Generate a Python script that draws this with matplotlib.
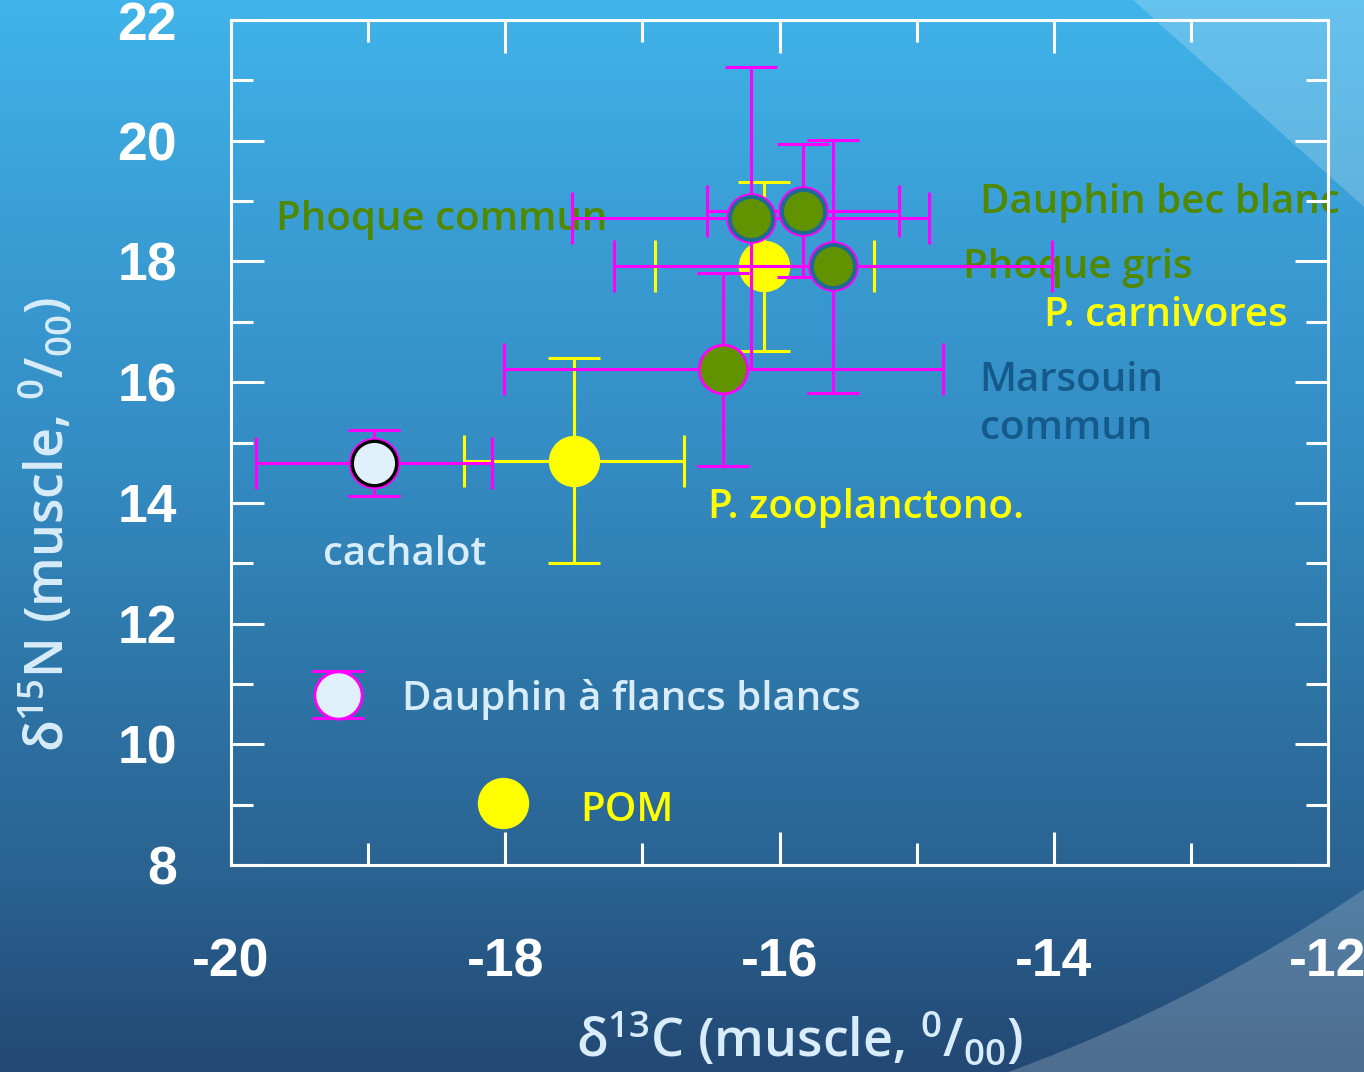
import numpy as np
import matplotlib
matplotlib.use("Agg")
import matplotlib.pyplot as plt
from matplotlib.patches import Wedge, Polygon

plt.rcParams['font.family'] = ['Open Sans', 'DejaVu Sans']
plt.rcParams['mathtext.fontset'] = 'custom'
plt.rcParams['mathtext.rm'] = 'Open Sans:semibold'
plt.rcParams['mathtext.it'] = 'Open Sans:semibold'

# isotope means (d13C, d15N) and their spread
species = ["cachalot", "P. zooplanctono.", "Marsouin commun", "Phoque commun",
           "Dauphin bec blanc", "Phoque gris", "P. carnivores"]
d13c = [-18.96, -17.50, -16.41, -16.21, -15.83, -15.61, -16.11]
d15n = [14.66, 14.70, 16.21, 18.72, 18.84, 17.92, 17.92]
d13c_sd = [0.86, 0.80, 1.60, 1.30, 0.70, 1.60, 0.80]
d15n_sd = [0.54, 1.70, 1.60, 2.50, 1.10, 2.10, 1.40]

# key entries drawn inside the plot
key_x = [-19.22, -18.02]
key_y = [10.82, 9.03]
key_yerr = [0.39, 0.0]

xticks = [-20, -18, -16, -14, -12]
yticks = [8, 10, 12, 14, 16, 18, 20, 22]

MAG = "#ff00ff"
YEL = "#ffff00"
GREEN = "#619300"
RING = "#1d6a94"
PALE = "#e0f0fb"
TXT_GREEN = "#508800"
TXT_PALE = "#d8ecf9"
TXT_BLUE = "#145b8b"

fig = plt.figure(figsize=(13.64, 10.72), dpi=100)

# background: vertical blue gradient with two light swooshes
bg = fig.add_axes([0, 0, 1, 1], zorder=-1)
stops = np.array([0, 200, 460, 650, 880, 1072])
cols = np.array([[64, 180, 234], [58, 160, 215], [52, 140, 195],
                 [46, 120, 170], [42, 98, 145], [35, 72, 115]]) / 255
yy = np.arange(1072)
grad = np.stack([np.interp(yy, stops, cols[:, i]) for i in range(3)], axis=1)
bg.imshow(grad[:, None, :], extent=[0, 1364, 1072, 0], aspect="auto")
bg.add_patch(Wedge((450, -453), 3700, 0, 360, width=2076, color="white", alpha=0.2, lw=0))
bg.add_patch(Polygon([[1133, 0], [1364, 0], [1364, 207]], closed=True,
                     color="white", alpha=0.2, lw=0))
bg.set_xlim(0, 1364)
bg.set_ylim(1072, 0)
bg.axis("off")

ax = fig.add_axes([0.1694, 0.1931, 0.8042, 0.7882])
ax.set_facecolor("none")

ms = 35
cap = 18.7
lw = 2.2

# yellow groups (underneath the magenta bars)
for i in (1, 6):
    ax.errorbar(d13c[i], d15n[i], xerr=d13c_sd[i], yerr=d15n_sd[i], fmt="none",
                ecolor=YEL, elinewidth=lw, capsize=cap, capthick=lw, zorder=2)
    ax.plot(d13c[i], d15n[i], "o", ms=ms + 2, mfc=YEL, mew=0, zorder=2)

# marine mammals: magenta error bars
for i in (0, 2, 3, 4, 5):
    ax.errorbar(d13c[i], d15n[i], xerr=d13c_sd[i], yerr=d15n_sd[i], fmt="none",
                ecolor=MAG, elinewidth=lw, capsize=cap, capthick=lw, zorder=3)

# markers on top
ax.plot(d13c[0], d15n[0], "o", ms=ms + 2, mfc=MAG, mew=0, zorder=4)
ax.plot(d13c[0], d15n[0], "o", ms=ms - 3, mfc=PALE, mec="black", mew=2.4, zorder=5)
ax.plot(d13c[2], d15n[2], "o", ms=ms, mfc=GREEN, mec=MAG, mew=2, zorder=4)
for i in (3, 4, 5):
    ax.plot(d13c[i], d15n[i], "o", ms=ms + 1.5, mfc=MAG, mew=0, zorder=4)
    ax.plot(d13c[i], d15n[i], "o", ms=ms - 4, mfc=GREEN, mec=RING, mew=2.8, zorder=5)

# key markers
ax.errorbar(key_x[0], key_y[0], yerr=key_yerr[0], fmt="none", ecolor=MAG,
            elinewidth=lw, capsize=cap, capthick=lw, zorder=4)
ax.plot(key_x[0], key_y[0], "o", ms=ms - 1, mfc=PALE, mec=MAG, mew=2, zorder=4)
ax.plot(key_x[1], key_y[1], "o", ms=ms + 2, mfc=YEL, mew=0, zorder=4)

# labels
lab = dict(fontsize=29, fontweight="semibold", va="center", ha="left")
ax.text(-19.67, 18.69, "Phoque commun", color=TXT_GREEN, zorder=1, **lab)
ax.text(-14.54, 18.97, "Dauphin bec blanc", color=TXT_GREEN, zorder=1, **lab)
ax.text(-14.66, 17.89, "Phoque gris", color=TXT_GREEN, zorder=1, **lab)
ax.text(-14.07, 17.10, "P. carnivores", color=YEL, zorder=6, **lab)
ax.text(-14.54, 15.62, "Marsouin\ncommun", color=TXT_BLUE, linespacing=1.27, zorder=1, **lab)
ax.text(-16.52, 13.91, "P. zooplanctono.", color=YEL, zorder=6, **lab)
ax.text(-19.33, 13.14, "cachalot", color=TXT_PALE, zorder=6, **lab)
ax.text(-18.75, 10.75, "Dauphin à flancs blancs", color=TXT_PALE, zorder=6, **lab)
ax.text(-17.45, 8.89, "POM", color=YEL, zorder=6, **lab)

ax.set_xlim(-20, -12)
ax.set_ylim(8, 22)
ax.set_xticks(xticks)
ax.set_yticks(yticks)
ax.set_xticks(np.arange(-20, -11, 1), minor=True)
ax.set_yticks(np.arange(8, 23, 1), minor=True)
ax.set_xticklabels([str(t) for t in xticks])
ax.set_yticklabels([str(t) for t in yticks])

for s in ax.spines.values():
    s.set_color("white")
    s.set_linewidth(2.2)
ax.tick_params(which="both", direction="in", top=True, right=True,
               color="white", width=2.2)
ax.tick_params(which="major", length=24, labelsize=38.5, labelcolor="white")
ax.tick_params(which="minor", length=16)
ax.tick_params(axis="x", which="major", pad=52)
ax.tick_params(axis="y", which="major", pad=39)
for t in ax.get_xticklabels() + ax.get_yticklabels():
    t.set_fontfamily("Liberation Sans")
    t.set_fontweight("bold")

fig.text(800 / 1364, 1 - 1040 / 1072, r"δ$^{13}$C (muscle, $^{0}/_{00}$)",
         color=TXT_PALE, fontsize=37.5, fontweight="semibold", ha="center", va="center")
fig.text(47 / 1364, 1 - 525 / 1072, r"δ$^{15}$N (muscle, $^{0}/_{00}$)",
         color=TXT_PALE, fontsize=37.5, fontweight="semibold", ha="center", va="center",
         rotation=90)

fig.savefig("out.png", dpi=100)
